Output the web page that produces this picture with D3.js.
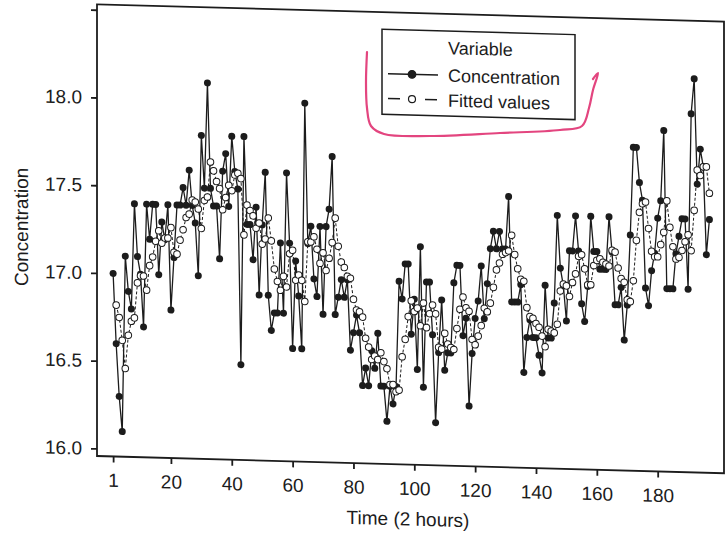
<!DOCTYPE html>
<html lang="en">

<head>
    <meta charset="UTF-8">
    <meta name="viewport" content="width=device-width, initial-scale=1.0">
    <script src="https://d3js.org/d3.v7.min.js"></script>
    <title>Concentration and fitted values</title>
    <style>
        body {
            margin: 0;
            background: #ffffff;
        }

        svg {
            display: block;
            font-family: "Liberation Sans", Arial, sans-serif;
        }

        .axis text {
            font-size: 19px;
            fill: #1c1c1c;
        }

        .axis line {
            stroke: #1c1c1c;
            stroke-width: 1.8px;
        }

        .axis path {
            display: none;
        }
    </style>
</head>

<body>
    <div id="chart"></div>

    <script>
        /*------------------- Data --------------------*/
        // Concentration readings, one every 2 hours (t = 1 ... 197)
        const concentration = [
            17.0, 16.6, 16.3, 16.1, 17.1, 16.9, 16.8, 17.4, 17.1, 17.0,
            16.7, 17.4, 17.2, 17.4, 17.4, 17.0, 17.3, 17.2, 17.4, 16.8,
            17.1, 17.4, 17.4, 17.5, 17.4, 17.6, 17.4, 17.3, 17.0, 17.8,
            17.5, 18.1, 17.5, 17.4, 17.4, 17.1, 17.6, 17.7, 17.4, 17.8,
            17.6, 17.5, 16.5, 17.8, 17.3, 17.3, 17.1, 17.4, 16.9, 17.3,
            17.6, 16.9, 16.7, 16.8, 16.8, 17.2, 16.8, 17.6, 17.2, 16.6,
            17.1, 16.9, 16.6, 18.0, 17.2, 17.3, 17.0, 16.9, 17.3, 16.8,
            17.3, 17.4, 17.7, 16.8, 16.9, 17.0, 16.9, 17.0, 16.6, 16.7,
            16.8, 16.7, 16.4, 16.5, 16.4, 16.6, 16.5, 16.7, 16.4, 16.4,
            16.2, 16.4, 16.3, 16.4, 17.0, 16.9, 17.1, 17.1, 16.7, 16.9,
            16.5, 17.2, 16.4, 17.0, 17.0, 16.7, 16.2, 16.6, 16.9, 16.5,
            16.6, 16.6, 17.0, 17.1, 17.1, 16.7, 16.8, 16.3, 16.6, 16.8,
            16.9, 17.1, 16.8, 17.0, 17.2, 17.3, 17.2, 17.3, 17.2, 17.2,
            17.5, 16.9, 16.9, 16.9, 17.0, 16.5, 16.7, 16.8, 16.7, 16.7,
            16.6, 16.5, 17.0, 16.7, 16.7, 16.9, 17.4, 17.1, 17.0, 16.8,
            17.2, 17.2, 17.4, 17.2, 16.9, 16.8, 17.0, 17.4, 17.2, 17.2,
            17.1, 17.1, 17.1, 17.4, 17.2, 16.9, 16.9, 17.0, 16.7, 16.9,
            17.3, 17.8, 17.8, 17.6, 17.5, 17.0, 16.9, 17.1, 17.2, 17.4,
            17.5, 17.9, 17.0, 17.0, 17.0, 17.2, 17.3, 17.4, 17.4, 17.0,
            18.0, 18.2, 17.6, 17.8, 17.7, 17.2, 17.4
        ];

        // Fitted values (no fit at t = 1)
        const fitted = [
            null,
            16.82, 16.75, 16.62, 16.46, 16.65, 16.73, 16.75, 16.95, 16.99, 16.99,
            16.91, 17.05, 17.10, 17.19, 17.25, 17.18, 17.21, 17.21, 17.27, 17.13,
            17.12, 17.20, 17.26, 17.33, 17.35, 17.43, 17.42, 17.38, 17.27, 17.43,
            17.45, 17.65, 17.60, 17.54, 17.50, 17.38, 17.45, 17.52, 17.49, 17.58,
            17.59, 17.56, 17.24, 17.41, 17.38, 17.35, 17.28, 17.31, 17.19, 17.22,
            17.34, 17.21, 17.05, 16.98, 16.93, 17.01, 16.95, 17.14, 17.16, 16.99,
            17.02, 16.99, 16.87, 17.21, 17.21, 17.24, 17.17, 17.09, 17.15, 17.05,
            17.12, 17.21, 17.35, 17.19, 17.10, 17.07, 17.02, 17.01, 16.89, 16.83,
            16.82, 16.79, 16.67, 16.62, 16.55, 16.57, 16.55, 16.59, 16.54, 16.50,
            16.41, 16.41, 16.37, 16.38, 16.57, 16.67, 16.80, 16.89, 16.83, 16.85,
            16.75, 16.88, 16.74, 16.82, 16.87, 16.82, 16.63, 16.62, 16.71, 16.65,
            16.63, 16.62, 16.74, 16.85, 16.92, 16.86, 16.84, 16.68, 16.65, 16.70,
            16.76, 16.86, 16.84, 16.89, 16.98, 17.08, 17.12, 17.17, 17.18, 17.19,
            17.28, 17.17, 17.09, 17.03, 17.02, 16.87, 16.82, 16.81, 16.78, 16.76,
            16.71, 16.65, 16.75, 16.74, 16.73, 16.78, 16.97, 17.01, 17.00, 16.94,
            17.02, 17.07, 17.17, 17.18, 17.10, 17.01, 17.01, 17.12, 17.15, 17.16,
            17.14, 17.13, 17.12, 17.21, 17.20, 17.11, 17.05, 17.03, 16.93, 16.92,
            17.04, 17.27, 17.43, 17.48, 17.49, 17.34, 17.21, 17.18, 17.18, 17.25,
            17.32, 17.50, 17.35, 17.24, 17.17, 17.18, 17.22, 17.27, 17.31, 17.22,
            17.45, 17.68, 17.65, 17.70, 17.70, 17.55
        ];

        const xTicks = [1, 20, 40, 60, 80, 100, 120, 140, 160, 180];
        const yTicks = [16.0, 16.5, 17.0, 17.5, 18.0, 18.5];
        const yTickLabels = ["16.0", "16.5", "17.0", "17.5", "18.0", ""];

        const legendTitle = "Variable";
        const legendLabels = ["Concentration", "Fitted values"];

        // hand-drawn pink mark around the legend (page coordinates)
        const penMark = [[367, 52], [366, 82], [367, 108], [371, 126], [384, 134], [430, 136],
            [500, 133], [560, 130], [582, 126], [589, 108], [593, 90], [598, 73], [593, 79]];

        /*------------------- Window setting --------------------*/
        const width = 725;
        const height = 535;
        const plot = { left: 97, right: 724, top: 4.3, bottom: 456 };
        // the scanned page is slightly sheared: horizontal lines drop ~2.75px per 100px
        const shear = 0.0275;
        const ink = "#1c1c1c";

        const svg = d3.select("#chart").append("svg")
            .attr("width", width)
            .attr("height", height);

        const page = svg.append("g")
            .attr("transform", `translate(0,${-shear * plot.left}) skewY(${Math.atan(shear) * 180 / Math.PI})`);

        const x = d3.scaleLinear()
            .domain([-4.3, 201.8])
            .range([plot.left, plot.right]);

        const y = d3.scaleLinear()
            .domain([15.957, 18.531])
            .range([plot.bottom, plot.top]);

        /*------------------- Axes --------------------*/
        page.append("g")
            .attr("class", "axis")
            .attr("transform", `translate(0,${plot.bottom})`)
            .call(d3.axisBottom(x)
                .tickValues(xTicks)
                .tickSize(6)
                .tickPadding(11)
                .tickSizeOuter(0));

        page.append("g")
            .attr("class", "axis")
            .attr("transform", `translate(${plot.left},0)`)
            .call(d3.axisLeft(y)
                .tickValues(yTicks)
                .tickFormat((d, i) => yTickLabels[i])
                .tickSize(6)
                .tickPadding(9)
                .tickSizeOuter(0));

        // frame around the plot
        page.append("rect")
            .attr("x", plot.left)
            .attr("y", plot.top)
            .attr("width", plot.right - plot.left)
            .attr("height", plot.bottom - plot.top)
            .attr("fill", "none")
            .attr("stroke", ink)
            .attr("stroke-width", 1.8);

        page.append("text")
            .attr("x", 408)
            .attr("y", 517)
            .attr("text-anchor", "middle")
            .attr("font-size", 19)
            .attr("fill", ink)
            .text("Time (2 hours)");

        page.append("text")
            .attr("transform", "translate(28,229) rotate(-90)")
            .attr("text-anchor", "middle")
            .attr("font-size", 19)
            .attr("fill", ink)
            .text("Concentration");

        /*------------------- Series --------------------*/
        const obs = concentration.map((v, i) => ({ t: i + 1, v: v }));
        const fit = fitted.map((v, i) => ({ t: i + 1, v: v })).filter(d => d.v !== null);

        const line = d3.line()
            .x(d => x(d.t))
            .y(d => y(d.v));

        page.append("path")
            .datum(obs)
            .attr("d", line)
            .attr("fill", "none")
            .attr("stroke", ink)
            .attr("stroke-width", 1.3);

        page.selectAll(".obs")
            .data(obs)
            .enter()
            .append("circle")
            .attr("class", "obs")
            .attr("cx", d => x(d.t))
            .attr("cy", d => y(d.v))
            .attr("r", 3.5)
            .attr("fill", ink);

        page.append("path")
            .datum(fit)
            .attr("d", line)
            .attr("fill", "none")
            .attr("stroke", ink)
            .attr("stroke-width", 1)
            .attr("stroke-dasharray", "3,2");

        page.selectAll(".fit")
            .data(fit)
            .enter()
            .append("circle")
            .attr("class", "fit")
            .attr("cx", d => x(d.t))
            .attr("cy", d => y(d.v))
            .attr("r", 3.3)
            .attr("fill", "#ffffff")
            .attr("stroke", ink)
            .attr("stroke-width", 1);

        /*------------------- Legend --------------------*/
        const legend = page.append("g");

        legend.append("rect")
            .attr("x", 382)
            .attr("y", 21.5)
            .attr("width", 193)
            .attr("height", 85)
            .attr("fill", "#ffffff")
            .attr("stroke", ink)
            .attr("stroke-width", 1.5);

        legend.append("text")
            .attr("x", 448)
            .attr("y", 44.5)
            .attr("font-size", 18)
            .attr("fill", ink)
            .text(legendTitle);

        const rows = legend.selectAll(".row")
            .data(legendLabels)
            .enter()
            .append("g")
            .attr("class", "row")
            .attr("transform", (d, i) => `translate(0,${65.7 + i * 24.8})`);

        rows.append("line")
            .attr("x1", 388)
            .attr("x2", 438)
            .attr("stroke", ink)
            .attr("stroke-width", 1.5)
            .attr("stroke-dasharray", (d, i) => i === 0 ? null : "12,25");

        rows.append("circle")
            .attr("cx", 412)
            .attr("r", (d, i) => i === 0 ? 3.8 : 3.5)
            .attr("fill", (d, i) => i === 0 ? ink : "#ffffff")
            .attr("stroke", ink)
            .attr("stroke-width", 1.2);

        rows.append("text")
            .attr("x", 448)
            .attr("y", 6.5)
            .attr("font-size", 18)
            .attr("fill", ink)
            .text(d => d);

        /*------------------- Pen mark --------------------*/
        svg.append("path")
            .datum(penMark)
            .attr("d", d3.line().curve(d3.curveCatmullRom))
            .attr("fill", "none")
            .attr("stroke", "#e3457f")
            .attr("stroke-width", 2.2)
            .attr("stroke-linecap", "round")
            .attr("stroke-linejoin", "round");
    </script>
</body>
</html>
